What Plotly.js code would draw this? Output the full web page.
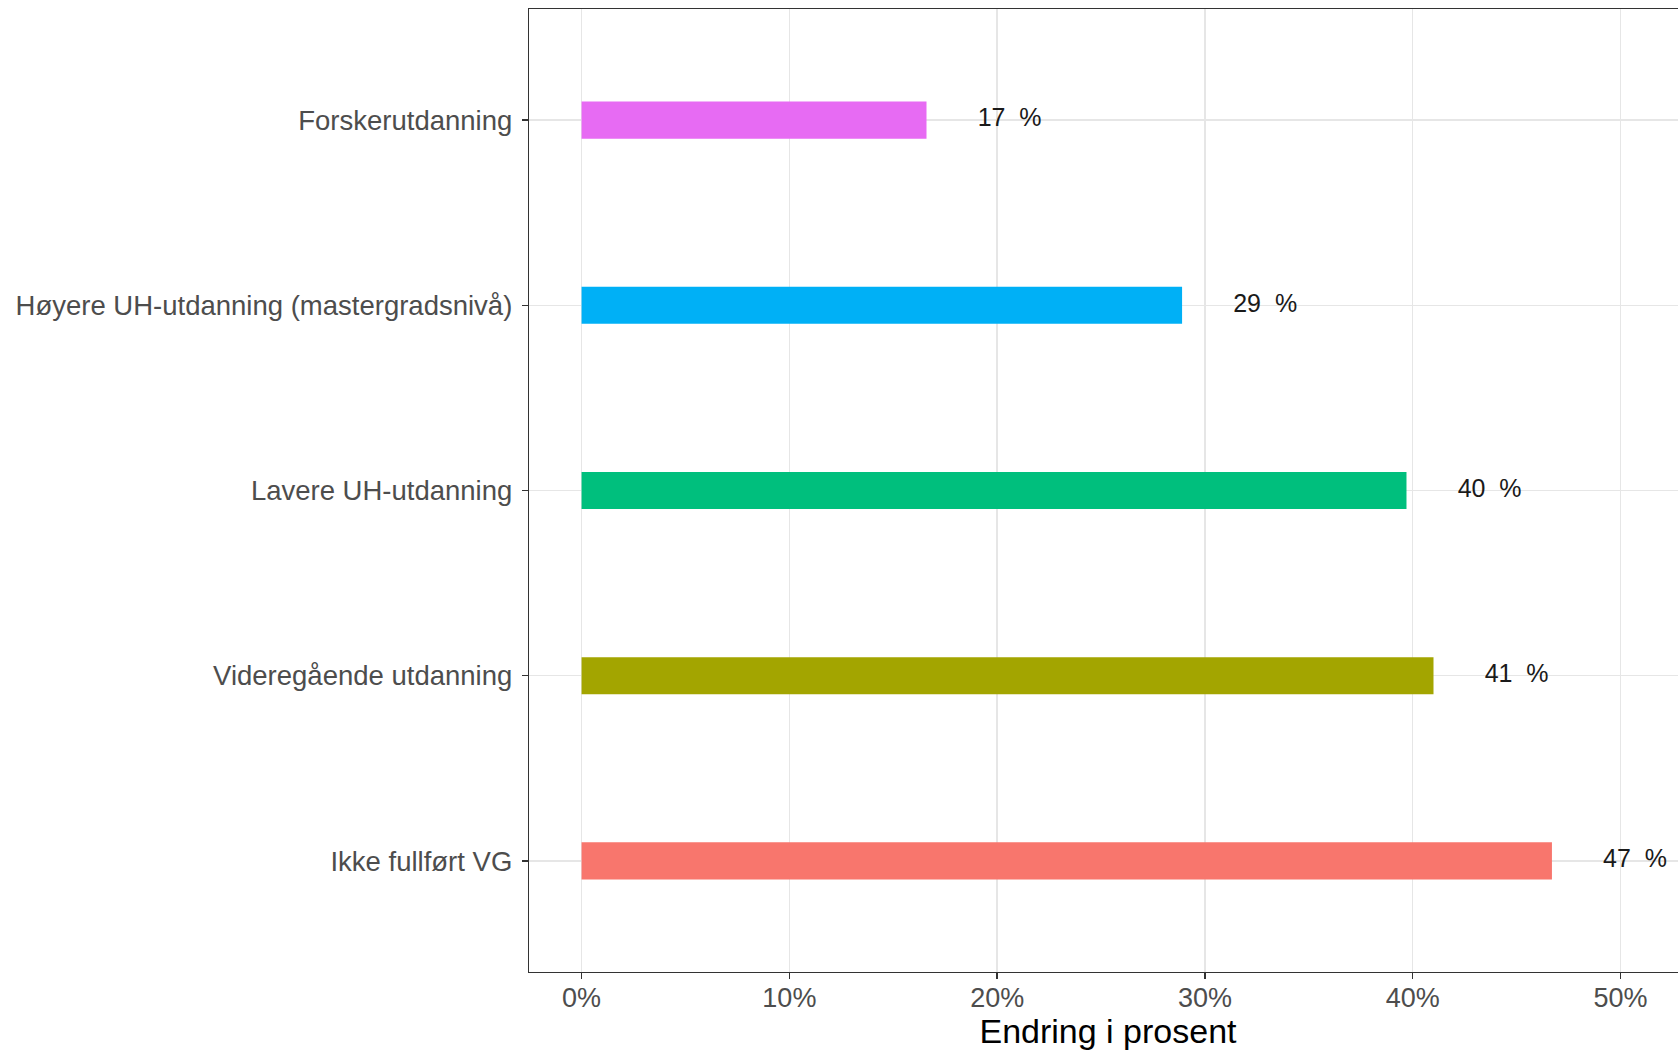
<!DOCTYPE html>
<html>
<head>
<meta charset="utf-8">
<script src="https://cdn.plot.ly/plotly-3.0.1.min.js"></script>
<style>
html,body{margin:0;padding:0;background:#fff;overflow:hidden;width:1678px;height:1050px;}
#chart{width:1690px;height:1050px;}
</style>
</head>
<body>
<div id="chart"></div>
<script>
// Categories from bottom to top
const categories = [
  "Ikke fullført VG",
  "Videregående utdanning",
  "Lavere UH-utdanning",
  "Høyere UH-utdanning (mastergradsnivå)",
  "Forskerutdanning"
];
const values = [46.7, 41.0, 39.7, 28.9, 16.6];
const barColors = ["#F8766D", "#A3A500", "#00BF7D", "#00B0F6", "#E76BF3"];
const xTickVals = [0, 10, 20, 30, 40, 50];
const xTickText = ["0%", "10%", "20%", "30%", "40%", "50%"];
const labelOffset = 4;

const labels = values.map(v => Math.round(v) + "\u00a0 %");

const font = "Liberation Sans, Arial, sans-serif";

const traces = [
  {
    type: "bar",
    orientation: "h",
    y: categories,
    x: values,
    width: 0.2,
    marker: {color: barColors, line: {width: 0}},
    hoverinfo: "skip",
    showlegend: false
  },
  {
    type: "scatter",
    mode: "text",
    y: categories,
    x: values.map(v => v + labelOffset),
    text: labels,
    textposition: "middle center",
    textfont: {family: font, size: 25, color: "#1a1a1a"},
    hoverinfo: "skip",
    showlegend: false,
    cliponaxis: false
  }
];

const layout = {
  width: 1690,
  height: 1050,
  margin: {l: 529, r: 3, t: 9, b: 78, pad: 0},
  paper_bgcolor: "#ffffff",
  plot_bgcolor: "#ffffff",
  showlegend: false,
  font: {family: font},
  xaxis: {
    range: [-2.53, 53.2],
    tickvals: xTickVals,
    ticktext: xTickText,
    showgrid: true,
    gridcolor: "#E6E6E6",
    gridwidth: 1.5,
    zeroline: false,
    ticks: "outside",
    ticklen: 6,
    tickwidth: 1.5,
    tickcolor: "#333333",
    ticklabelstandoff: -5,
    tickfont: {family: font, size: 27, color: "#4D4D4D"},
    showline: true,
    linecolor: "#333333",
    linewidth: 1.2,
    mirror: true,
    title: {text: "Endring i prosent", font: {family: font, size: 34, color: "#000000"}, standoff: 8}
  },
  yaxis: {
    type: "category",
    categoryorder: "array",
    categoryarray: categories,
    range: [-0.6, 4.6],
    showgrid: true,
    gridcolor: "#E6E6E6",
    gridwidth: 1.5,
    zeroline: false,
    ticks: "outside",
    ticklen: 6,
    tickwidth: 1.5,
    tickcolor: "#333333",
    ticklabelstandoff: 4,
    tickfont: {family: font, size: 27.5, color: "#4D4D4D"},
    showline: true,
    linecolor: "#333333",
    linewidth: 1.2,
    mirror: true,
    automargin: false
  }
};

Plotly.newPlot("chart", traces, layout, {displayModeBar: false, staticPlot: true});
</script>
</body>
</html>
